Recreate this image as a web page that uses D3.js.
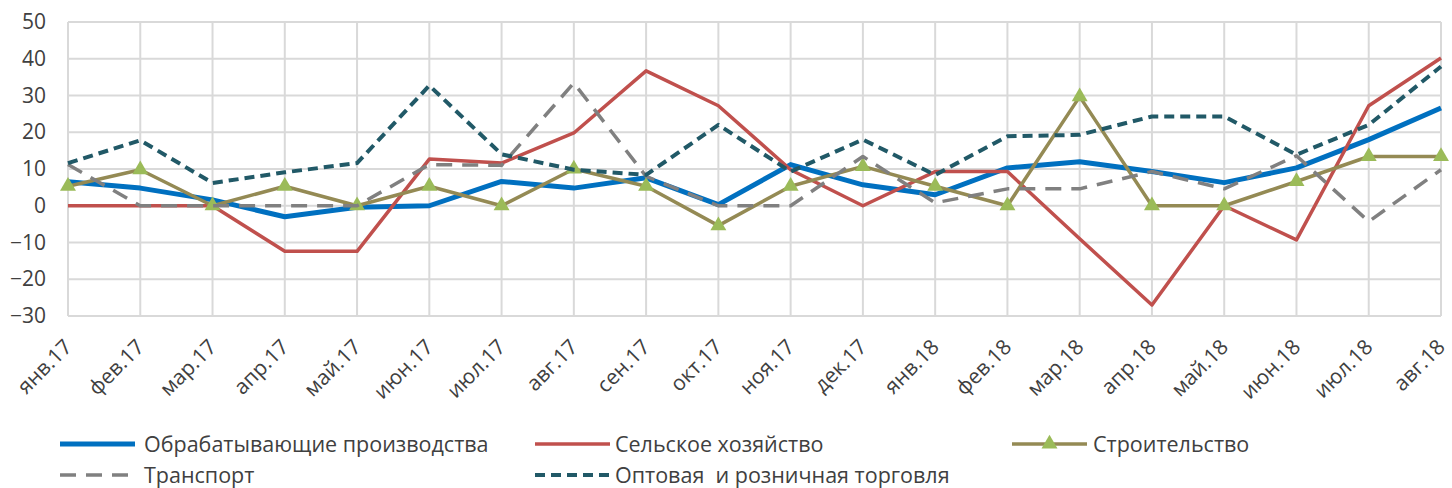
<!DOCTYPE html>
<html>
<head>
<meta charset="utf-8">
<script src="https://cdn.jsdelivr.net/npm/d3@7"></script>
<style>
  body { margin: 0; background: #fff; }
  text { font-family: "Open Sans", "Noto Sans", sans-serif; fill: #404040; white-space: pre; }
</style>
</head>
<body>
<div id="chart"></div>
<script>
// Months on the category axis
const months = ["янв.17", "фев.17", "мар.17", "апр.17", "май.17", "июн.17", "июл.17", "авг.17",
  "сен.17", "окт.17", "ноя.17", "дек.17", "янв.18", "фев.18", "мар.18", "апр.18",
  "май.18", "июн.18", "июл.18", "авг.18"];

const yTicks = [-30, -20, -10, 0, 10, 20, 30, 40, 50];

// Series values
const manufacturing = [6.5, 4.8, 1.6, -3, -0.4, 0, 6.6, 4.8, 7.6, 0.3, 11.2, 5.7, 3, 10.3, 12, 9.3, 6.3, 10.3, 18, 26.6];
const agriculture = [0, 0, 0, -12.4, -12.4, 12.7, 11.6, 19.8, 36.7, 27.2, 9.8, 0, 9.3, 9.3, -9, -27, 0, -9.3, 27.2, 40.2];
const construction = [5.3, 9.8, 0, 5.3, 0, 5.3, 0, 10, 5.3, -5.4, 5.3, 10.7, 5.3, 0, 29.7, 0, 0, 6.6, 13.4, 13.4];
const transport = [11.2, 0, 0, 0, 0, 11.2, 11, 33.4, 8, 0, 0, 13.4, 0.8, 4.6, 4.6, 9.3, 4.6, 13.6, -4.3, 9.8];
const trade = [11.6, 17.8, 6.2, 9.1, 11.6, 32.7, 14, 9.8, 8.4, 22, 9.3, 18, 8.4, 18.9, 19.3, 24.3, 24.3, 13.9, 22, 37.9];

const series = [
  {name: "Обрабатывающие производства", values: manufacturing, color: "#0070C0", width: 5, dash: null},
  {name: "Сельское хозяйство", values: agriculture, color: "#C0504D", width: 3.5, dash: null},
  {name: "Строительство", values: construction, color: "#948A54", width: 3.5, dash: null, marker: "#9BBB59"},
  {name: "Транспорт", values: transport, color: "#808080", width: 3.5, dash: "16,10"},
  {name: "Оптовая  и розничная торговля", values: trade, color: "#215967", width: 4, dash: "10,6"}
];

const W = 1452, H = 488;
const plot = {left: 68, right: 1441, top: 22, bottom: 316};

const svg = d3.select("#chart").append("svg")
    .attr("width", W)
    .attr("height", H);

const x = d3.scalePoint()
    .domain(months)
    .range([plot.left, plot.right]);

const y = d3.scaleLinear()
    .domain([-30, 50])
    .range([plot.bottom, plot.top]);

// Gridlines
svg.append("g")
  .selectAll("line")
  .data(yTicks)
  .join("line")
    .attr("x1", plot.left)
    .attr("x2", plot.right)
    .attr("y1", d => y(d))
    .attr("y2", d => y(d))
    .attr("stroke", "#D9D9D9")
    .attr("stroke-width", 2);

svg.append("g")
  .selectAll("line")
  .data(months)
  .join("line")
    .attr("x1", d => x(d))
    .attr("x2", d => x(d))
    .attr("y1", plot.top)
    .attr("y2", plot.bottom)
    .attr("stroke", "#D9D9D9")
    .attr("stroke-width", 2);

// Y axis labels
const yAxis = svg.append("g")
    .attr("transform", "translate(46,0)")
    .call(d3.axisLeft(y).tickValues(yTicks).tickSize(0).tickPadding(0));
yAxis.select(".domain").remove();
yAxis.selectAll("text")
    .attr("font-size", 21)
    .attr("font-family", null)
    .attr("fill", "#404040");

// X axis labels, rotated
svg.append("g")
  .selectAll("text")
  .data(months)
  .join("text")
    .attr("transform", d => `translate(${x(d)},343) rotate(-45)`)
    .attr("text-anchor", "end")
    .attr("dy", "0.35em")
    .attr("font-size", 21)
    .text(d => d);

// Lines
const line = d3.line()
    .x((d, i) => x(months[i]))
    .y(d => y(d));

series.forEach(s => {
  svg.append("path")
      .datum(s.values)
      .attr("fill", "none")
      .attr("stroke", s.color)
      .attr("stroke-width", s.width)
      .attr("stroke-dasharray", s.dash)
      .attr("stroke-linejoin", "round")
      .attr("d", line);

  if (s.marker) {
    svg.append("g")
      .selectAll("path")
      .data(s.values)
      .join("path")
        .attr("transform", (d, i) => `translate(${x(months[i])},${y(d)})`)
        .attr("d", d3.symbol(d3.symbolTriangle, 110))
        .attr("fill", s.marker);
  }
});

// Legend
const legendPos = [
  {x: 60, y: 444, tx: 144},
  {x: 535, y: 444, tx: 615},
  {x: 1012, y: 444, tx: 1093},
  {x: 60, y: 475, tx: 144},
  {x: 535, y: 475, tx: 615}
];

series.forEach((s, i) => {
  const p = legendPos[i];
  const g = svg.append("g");
  g.append("line")
      .attr("x1", p.x)
      .attr("x2", p.x + 75)
      .attr("y1", p.y)
      .attr("y2", p.y)
      .attr("stroke", s.color)
      .attr("stroke-width", s.width)
      .attr("stroke-dasharray", s.dash);
  if (s.marker) {
    g.append("path")
        .attr("transform", `translate(${p.x + 37.5},${p.y})`)
        .attr("d", d3.symbol(d3.symbolTriangle, 110))
        .attr("fill", s.marker);
  }
  g.append("text")
      .attr("x", p.tx)
      .attr("y", p.y)
      .attr("dy", "0.35em")
      .attr("font-size", 21.5)
      .text(s.name);
});
</script>
</body>
</html>
